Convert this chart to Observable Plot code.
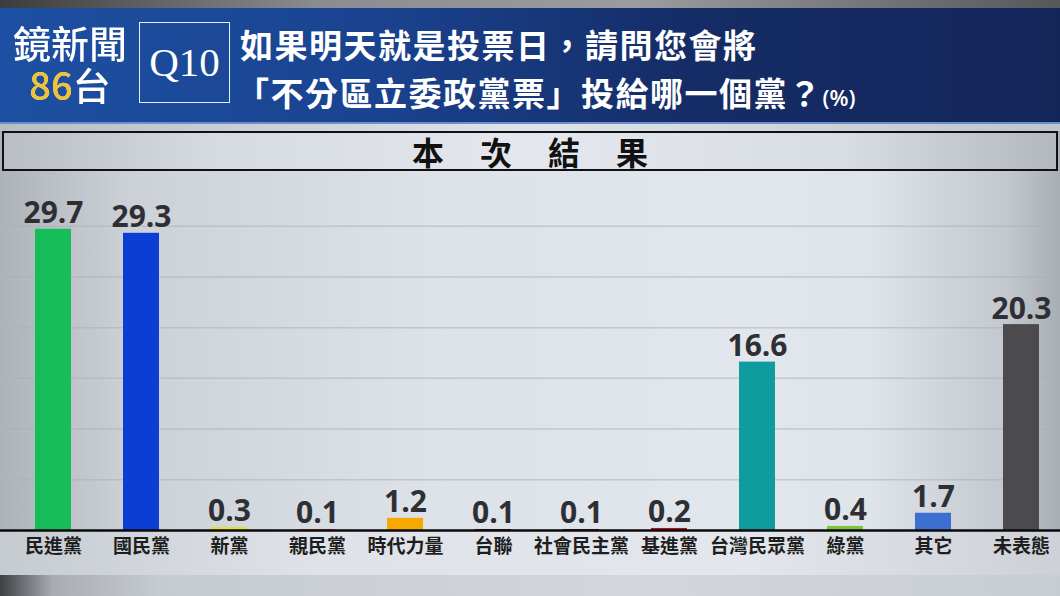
<!DOCTYPE html>
<html>
<head>
<meta charset="utf-8">
<script src="https://cdn.jsdelivr.net/npm/d3@7"></script>
<script src="https://cdn.jsdelivr.net/npm/@observablehq/plot@0.6"></script>
<style>
  html, body { margin:0; padding:0; }
  body { width:1060px; height:596px; overflow:hidden; position:relative; font-family:"Noto Sans CJK TC", sans-serif; }
  #bg { position:absolute; left:0; top:0; width:1060px; height:596px;
        background: linear-gradient(90deg, #aeb2b9 0%, #ccd0d7 12%, #dde1e8 40%, #e2e6ed 70%, #dfe3ea 82%, #c3c7ce 95%, #a9adb4 100%); }
  #topstrip { position:absolute; left:0; top:0; width:1060px; height:8px;
        background: linear-gradient(90deg, #3c3c3e 0%, #8a8c90 30%, #9a9ca0 60%, #55575b 100%); }
  #header { position:absolute; left:0; top:8px; width:1060px; height:116px;
        background: linear-gradient(90deg, #1d50a2 0%, #1a4390 35%, #152c66 65%, #13265a 100%);
        border-bottom: 2px solid #6d8fc9; box-sizing:border-box; }
  #brand { position:absolute; left:9px; top:13px; width:122px; height:84px; white-space:pre; text-align:center;
           font-size:38px; line-height:42px; font-weight:500; color:transparent;
           background: linear-gradient(#f2c12e, #f2c12e) left bottom / 64px 42px no-repeat, #ffffff;
           -webkit-background-clip: text; background-clip: text; }
  #qbox { position:absolute; left:139px; top:14px; width:91px; height:81px; border:1.5px solid #e8eef8; box-sizing:border-box;
          color:#fff; font-family:"Liberation Serif", serif; font-size:41px; line-height:78px; text-align:center; }
  #q1, #q2 { position:absolute; left:240px; color:#fff; font-size:33px; font-weight:700; line-height:40px; white-space:nowrap; letter-spacing:1.5px; }
  #q1 { top:16px; }
  #q2 { top:64px; left:236px; }
  #q2 .pct { font-family:"Open Sans", sans-serif; font-size:22px; font-weight:600; letter-spacing:0; }
  #sepstrip { position:absolute; left:0; top:124px; width:1060px; height:7px; background:linear-gradient(90deg,#b9bdc4,#dfe3ea 50%,#c0c4cb); }
  #titlebox { position:absolute; left:2px; top:131px; width:1056px; height:40px; box-sizing:border-box; border:2px solid #111;
              background: linear-gradient(90deg, #b9bdc4 0%, #d6dae1 20%, #e4e8ee 50%, #d8dce3 80%, #b3b7be 100%);
              text-align:center; font-size:32px; font-weight:700; line-height:36px; color:#111; letter-spacing:36px; padding-left:36px; }
  #lblband { position:absolute; left:0; top:531px; width:1060px; height:44px;
             background: linear-gradient(90deg, #c6cad1 0%, #dfe3e9 30%, #e3e7ed 70%, #cdd1d7 100%); }
  #botband { position:absolute; left:0; top:575px; width:1060px; height:21px;
             background: linear-gradient(90deg, #3d3f43 0%, #a9adb3 5%, #c6cad1 15%, #d3d7dd 60%, #c8ccd3 100%); }
  #chart { position:absolute; left:0; top:175px; }
</style>
</head>
<body>
<div id="bg"></div>
<div id="topstrip"></div>
<div id="header">
  <div id="brand">鏡新聞
86台</div>
  <div id="qbox">Q10</div>
  <div id="q1">如果明天就是投票日，請問您會將</div>
  <div id="q2">「不分區立委政黨票」投給哪一個黨？<span class="pct">(%)</span></div>
</div>
<div id="sepstrip"></div>
<div id="titlebox">本次結果</div>
<div id="lblband"></div>
<div id="botband"></div>
<div id="chart"></div>
<script>
const parties = ["民進黨","國民黨","新黨","親民黨","時代力量","台聯","社會民主黨","基進黨","台灣民眾黨","綠黨","其它","未表態"];
const values  = [29.7, 29.3, 0.3, 0.1, 1.2, 0.1, 0.1, 0.2, 16.6, 0.4, 1.7, 20.3];
const colors  = ["#17bd58","#0b3fd3","#e6de3c","#d4623a","#f7a900","#5e2418","#6e1a1a","#b0121c","#0e9c9e","#7dc63c","#3b6fd0","#4b4b4d"];
const gridTicks = [5, 10, 15, 20, 25, 30];

const data = parties.map((p, i) => ({party: p, value: values[i], color: colors[i]}));

const chart = Plot.plot({
  width: 1060,
  height: 400,
  marginTop: 0,
  marginBottom: 45,
  marginLeft: 0,
  marginRight: 0,
  style: {background: "transparent", overflow: "visible"},
  x: {domain: parties, range: [17, 1058], paddingInner: 0.59, paddingOuter: 0.204, axis: null},
  y: {domain: [0, 35], axis: null},
  marks: [
    Plot.ruleY(gridTicks, {stroke: "#a9b1bd", strokeOpacity: 0.55, strokeWidth: 1.5}),
    Plot.barY(data, {x: "party", y: "value", fill: "color"}),
    Plot.ruleY([0], {stroke: "#0a0a0a", strokeWidth: 2.5}),
    Plot.text(data, {x: "party", y: "value", text: d => d.value.toFixed(1), lineAnchor: "bottom", dy: -6,
      fontSize: 30, fontWeight: 700, fill: "#2e2f33", fontFamily: "Open Sans, sans-serif"}),
    Plot.axisX({anchor: "bottom", tickSize: 0, tickPadding: 9, fontSize: 19, fontWeight: 700,
      fill: "#1e1e20", fontFamily: "Noto Sans CJK TC, sans-serif", label: null})
  ]
});
document.getElementById("chart").appendChild(chart);
</script>
</body>
</html>
